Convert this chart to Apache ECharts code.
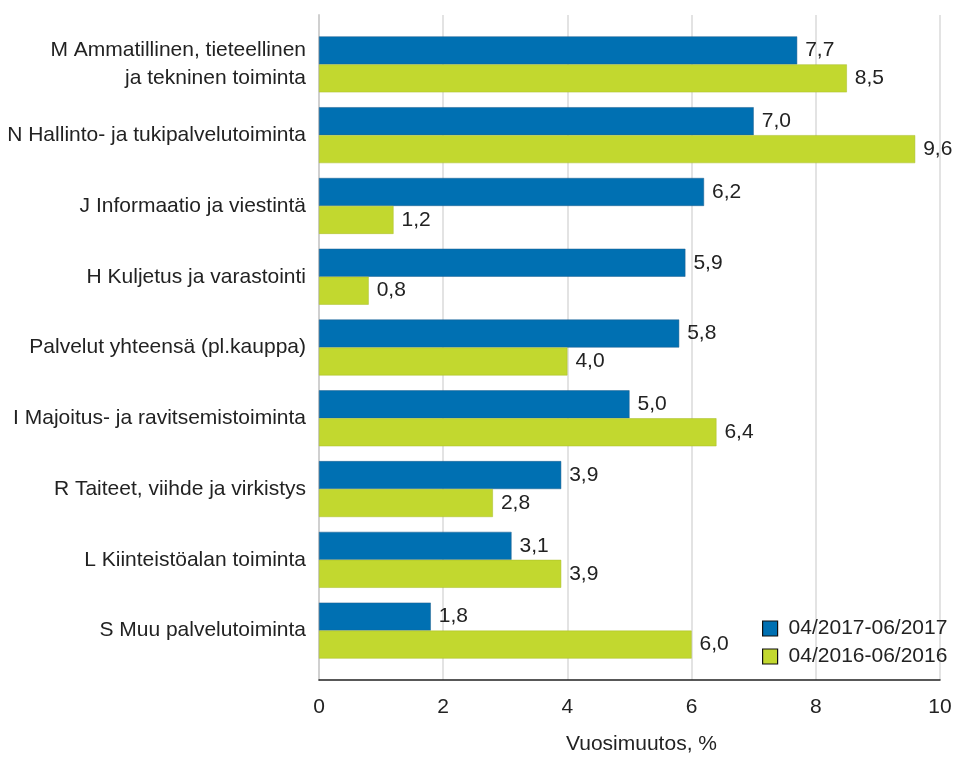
<!DOCTYPE html>
<html><head><meta charset="utf-8">
<script src="https://cdn.jsdelivr.net/npm/echarts@6/dist/echarts.min.js"></script>
<style>html,body{margin:0;padding:0;background:#fff;width:100%;height:100%;overflow:hidden}#c{width:100%;height:100%}</style>
</head><body><div id="c"></div>
<script>
const categories = [
  "M Ammatillinen, tieteellinen\nja tekninen toiminta",
  "N Hallinto- ja tukipalvelutoiminta",
  "J Informaatio ja viestintä",
  "H Kuljetus ja varastointi",
  "Palvelut yhteensä (pl.kauppa)",
  "I Majoitus- ja ravitsemistoiminta",
  "R Taiteet, viihde ja virkistys",
  "L Kiinteistöalan toiminta",
  "S Muu palvelutoiminta"
];
const series2017 = [7.7, 7.0, 6.2, 5.9, 5.8, 5.0, 3.9, 3.1, 1.8];
const series2016 = [8.5, 9.6, 1.2, 0.8, 4.0, 6.4, 2.8, 3.9, 6.0];
const seriesNames = ["04/2017-06/2017", "04/2016-06/2016"];
const xTicks = [0, 2, 4, 6, 8, 10];
const xTitle = "Vuosimuutos, %";

const FONT = "'Liberation Sans', Arial, sans-serif";
const FS = 21;
const fmt = v => v.toFixed(1).replace('.', ',');
const el = document.getElementById('c');
const chart = echarts.init(el, null, {renderer: 'canvas'});
const labelCfg = {
  show: true, position: 'right', distance: 8,
  color: '#222', fontSize: FS, fontFamily: FONT,
  formatter: p => fmt(p.value)
};
chart.setOption({
  animation: false,
  backgroundColor: '#fff',
  textStyle: {fontFamily: FONT},
  grid: [
    {left: 319, right: 23, top: 29, height: 637, outerBoundsMode: 'none', containLabel: false},
    {left: 319, right: 23, top: 15, height: 665, outerBoundsMode: 'none', containLabel: false}
  ],
  legend: {
    orient: 'vertical', left: 762, top: 618, itemGap: 7, padding: 0,
    itemWidth: 15, itemHeight: 15, icon: 'rect',
    textStyle: {fontSize: FS, color: '#222', fontFamily: FONT, padding: [0, 0, 0, 6]},
    data: seriesNames.map(n => ({name: n, itemStyle: {borderColor: '#111', borderWidth: 1.2}}))
  },
  xAxis: [
    {gridIndex: 0, type: 'value', min: 0, max: 10, interval: 2, show: false},
    {gridIndex: 1, type: 'value', min: 0, max: 10, interval: 2,
     axisLine: {show: true, onZero: false, lineStyle: {color: '#222', width: 1.5}},
     axisTick: {show: false},
     splitLine: {show: true, lineStyle: {color: '#e3e3e3', width: 2}},
     axisLabel: {margin: 17, fontSize: FS, color: '#222', fontFamily: FONT},
     name: xTitle, nameLocation: 'middle', nameGap: 54,
     nameTextStyle: {fontSize: FS, color: '#222', fontFamily: FONT, padding: [0, 0, 0, 24]}}
  ],
  yAxis: [
    {gridIndex: 0, type: 'category', data: categories, inverse: true,
     axisLine: {show: false}, axisTick: {show: false},
     axisLabel: {margin: 13, fontSize: FS, color: '#222', fontFamily: FONT, lineHeight: 28, align: 'right'}},
    {gridIndex: 1, type: 'value', min: 0, max: 1,
     axisLine: {show: true, lineStyle: {color: '#d0d0d0', width: 2}},
     axisTick: {show: false}, axisLabel: {show: false}, splitLine: {show: false}}
  ],
  series: [
    {name: seriesNames[0], type: 'bar', xAxisIndex: 0, yAxisIndex: 0, data: series2017,
     barGap: '0%', barCategoryGap: '21%',
     itemStyle: {color: '#0070b2', borderColor: '#1f5f8f', borderWidth: 0.5}, label: labelCfg},
    {name: seriesNames[1], type: 'bar', xAxisIndex: 0, yAxisIndex: 0, data: series2016,
     barGap: '0%', barCategoryGap: '21%',
     itemStyle: {color: '#c2d82f', borderColor: '#a9bd28', borderWidth: 0.5}, label: labelCfg}
  ]
});
</script></body></html>
